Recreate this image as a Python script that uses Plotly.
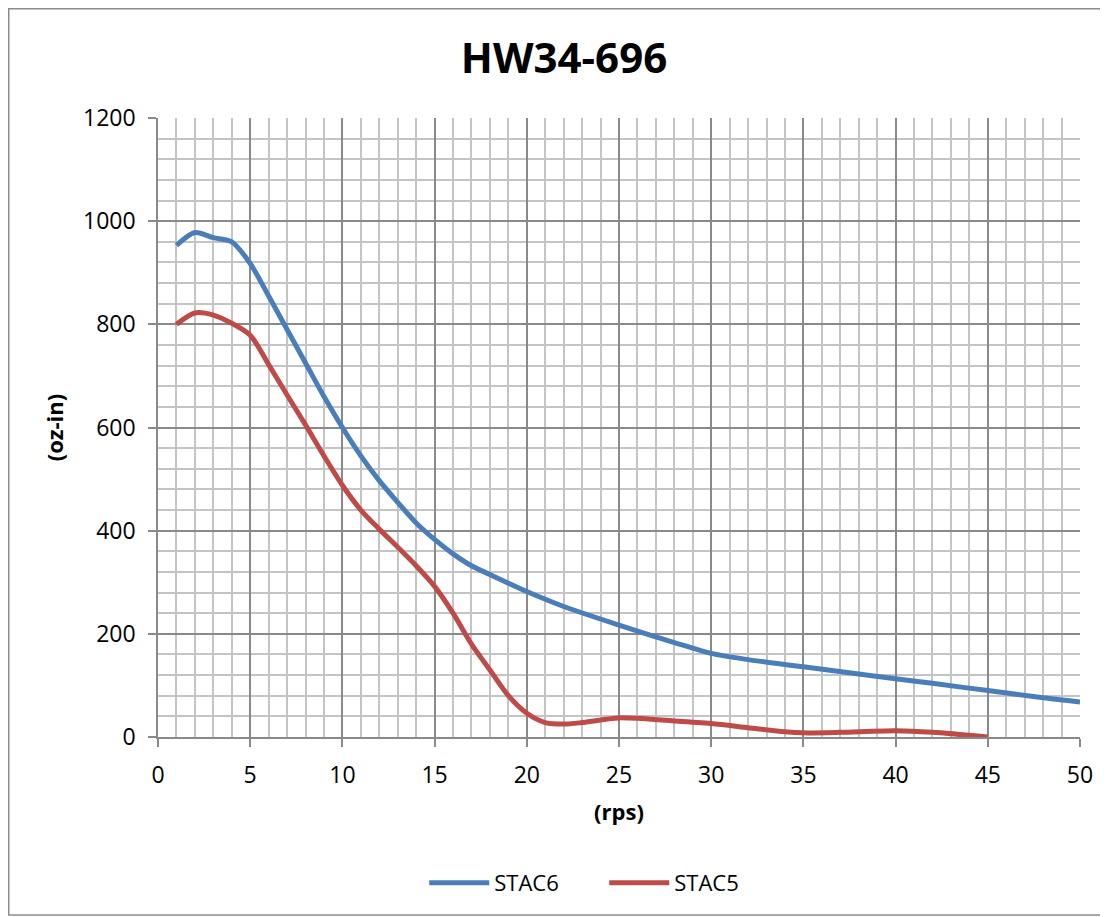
import plotly.graph_objects as go

# STAC6 (blue)
stac6_x = [1, 2, 3, 4, 5, 6, 7, 8, 9, 10, 11, 12, 13, 14, 15, 16, 17, 18, 20, 22, 25, 28, 30, 32, 35, 38, 40, 42, 45, 48, 50]
stac6_y = [953, 978, 968, 960, 918, 855, 790, 725, 660, 600, 545, 497, 455, 415, 383, 355, 332, 315, 282, 253, 217, 183, 162, 150, 136, 122, 113, 104, 90, 76, 68]

# STAC5 (red)
stac5_x = [1, 2, 3, 4, 5, 6, 7, 8, 9, 10, 11, 12, 13, 14, 15, 16, 17, 18, 19, 20, 21, 22, 23, 25, 28, 30, 32, 34, 35, 37, 40, 42, 45]
stac5_y = [800, 822, 818, 802, 779, 722, 663, 605, 545, 488, 440, 403, 368, 332, 292, 240, 180, 130, 80, 46, 28, 25, 28, 37, 31, 26, 18, 10, 8, 9, 12, 9, 0]

title_text = "HW34-696"
x_title = "(rps)"
y_title = "(oz-in)"

FONT = "Open Sans"
major_col = "#8a8a8a"
minor_col = "#c4c4c4"

W, H = 1100, 909
L, T, R, B = 150, 110, 28, 180
PW, PH = W - L - R, H - T - B

fig = go.Figure()
fig.add_trace(go.Scatter(x=stac6_x, y=stac6_y, name="STAC6", mode="lines",
                         line=dict(color="#4A7EBB", width=5, shape="spline", smoothing=0.8)))
fig.add_trace(go.Scatter(x=stac5_x, y=stac5_y, name="STAC5", mode="lines",
                         line=dict(color="#BE4B48", width=5, shape="spline", smoothing=0.8)))

fig.update_layout(
    width=W, height=H,
    margin=dict(l=L, r=R, t=T, b=B),
    paper_bgcolor="white", plot_bgcolor="white",
    font=dict(family=FONT, size=23, color="black"),
    title=dict(text="<b>%s</b>" % title_text, x=556 / W, xanchor="center",
               y=1 - 50 / H, yanchor="middle", font=dict(size=42, family=FONT)),
    showlegend=True,
    legend=dict(orientation="h", x=0.484, xanchor="center", y=(PH + T - 875) / PH, yanchor="middle",
                font=dict(size=22, family=FONT), itemwidth=60, tracegroupgap=0,
                entrywidth=105, entrywidthmode="pixels"),
)

fig.update_xaxes(
    range=[0, 50], dtick=5, tick0=0,
    showgrid=True, gridcolor=major_col, gridwidth=1.5,
    showline=True, linecolor=major_col, linewidth=1.5,
    ticks="outside", ticklen=8, tickcolor=major_col, tickwidth=1.5,
    minor=dict(dtick=1, showgrid=True, gridcolor=minor_col, gridwidth=1.5, ticks=""),
    zeroline=False, mirror=False,
    title=dict(text="<b>%s</b>" % x_title, font=dict(size=22, family=FONT), standoff=15),
    ticklabelstandoff=9,
)
fig.update_yaxes(
    range=[0, 1200], dtick=200, tick0=0,
    showgrid=True, gridcolor=major_col, gridwidth=1.5,
    showline=True, linecolor=major_col, linewidth=1.5,
    ticks="outside", ticklen=8, tickcolor=major_col, tickwidth=1.5,
    minor=dict(dtick=40, showgrid=True, gridcolor=minor_col, gridwidth=1.5, ticks=""),
    zeroline=False,
    title=dict(text="<b>%s</b>" % y_title, font=dict(size=22, family=FONT), standoff=13),
    ticklabelstandoff=8,
)

# outer chart border
fig.add_shape(type="rect", xref="paper", yref="paper",
              x0=(0.75 - L) / PW, x1=(1098 - L) / PW,
              y0=(T + PH - 907) / PH, y1=(T + PH - 0.75) / PH,
              line=dict(color="#8c8c8c", width=1.5), layer="below")

fig.write_html("out.html")
